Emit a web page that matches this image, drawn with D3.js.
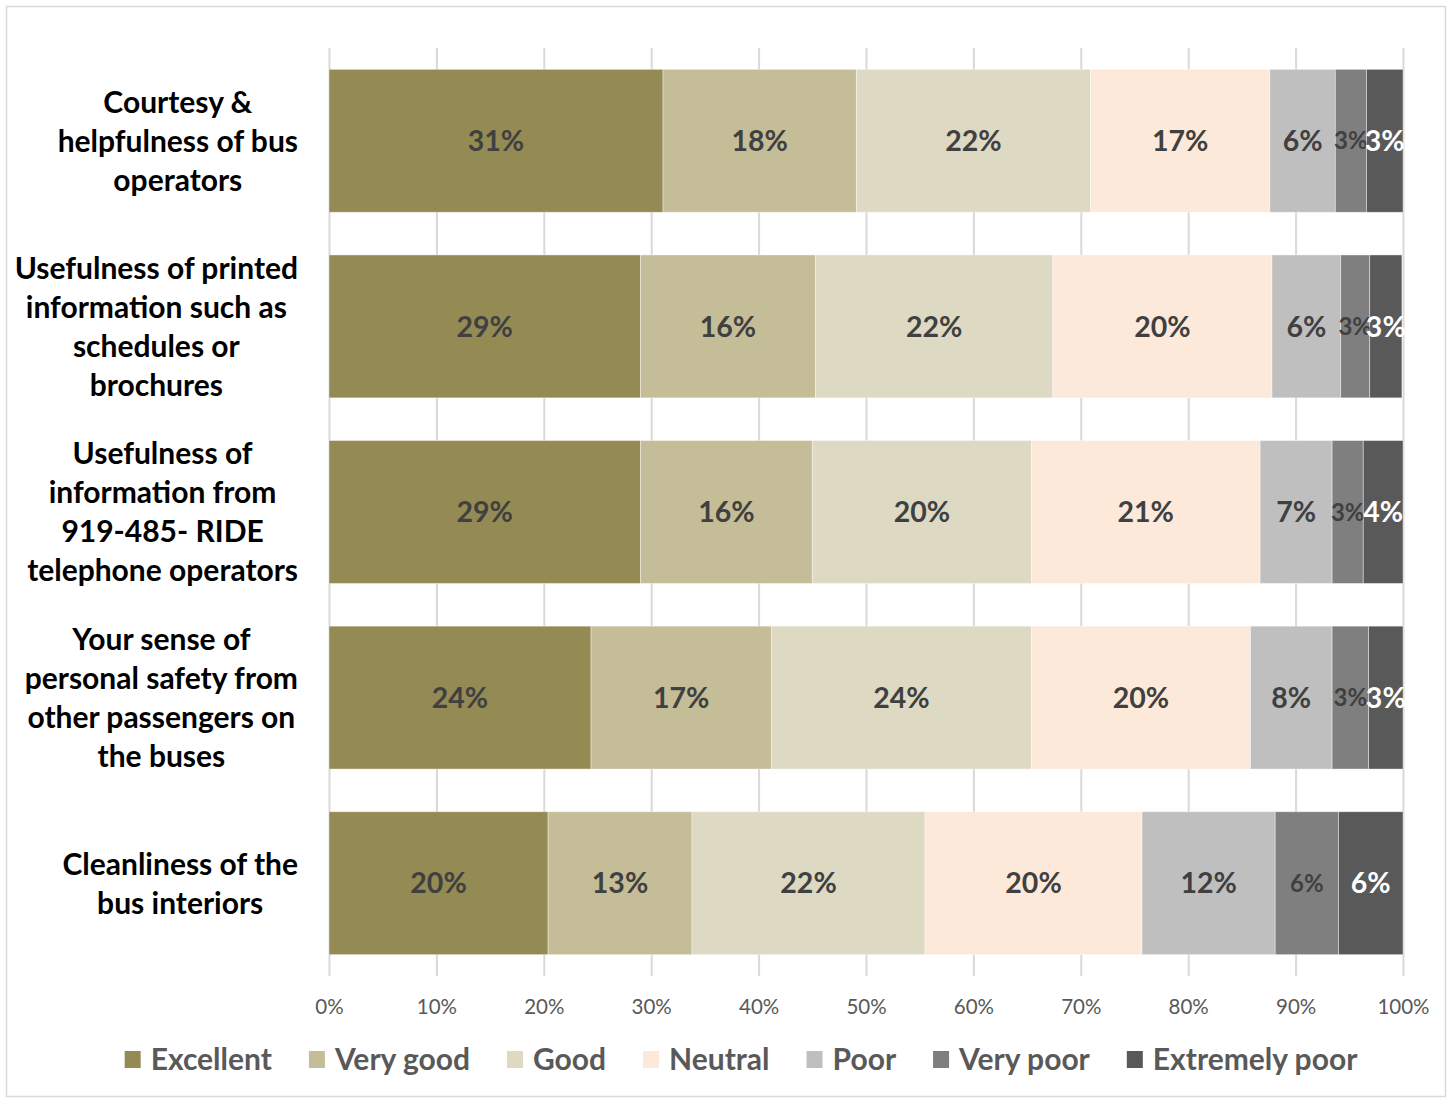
<!DOCTYPE html>
<html>
<head>
<meta charset="utf-8">
<script src="https://cdn.jsdelivr.net/npm/d3@7"></script>
<style>
  body { margin: 0; background: #fff; }
  svg { display: block; }
</style>
</head>
<body>
<svg id="chart" width="1452" height="1098"></svg>
<script>
// chart data
var categories = [
    ["Courtesy &", "helpfulness of bus", "operators"],
    ["Usefulness of printed", "information such as", "schedules or", "brochures"],
    ["Usefulness of", "information from", "919-485- RIDE", "telephone operators"],
    ["Your sense of", "personal safety from", "other passengers on", "the buses"],
    ["Cleanliness of the", "bus interiors"]
];
var seriesNames = ["Excellent", "Very good", "Good", "Neutral", "Poor", "Very poor", "Extremely poor"];
var excellent = [31.1, 29.0, 29.0, 24.4, 20.4];
var veryGood = [18.0, 16.3, 16.0, 16.8, 13.4];
var good = [21.8, 22.1, 20.4, 24.2, 21.7];
var neutral = [16.7, 20.4, 21.3, 20.4, 20.2];
var poor = [6.1, 6.4, 6.7, 7.6, 12.4];
var veryPoor = [2.9, 2.7, 2.9, 3.4, 5.9];
var extremelyPoor = [3.4, 3.0, 3.7, 3.2, 6.0];
var xTicks = [0, 10, 20, 30, 40, 50, 60, 70, 80, 90, 100];

var colors = ["#948A54", "#C4BD97", "#DDD9C3", "#FDE9D9", "#BFBFBF", "#7F7F7F", "#595959"];
var labelColors = ["#404040", "#404040", "#404040", "#404040", "#404040", "#404040", "#ffffff"];
var font = "Lato, 'Open Sans', sans-serif";

var svg = d3.select("#chart");

// outer chart border
svg.append("rect")
    .attr("x", 6.5).attr("y", 6.5)
    .attr("width", 1439).attr("height", 1090)
    .attr("fill", "#fff")
    .attr("stroke", "#D9D9D9")
    .attr("stroke-width", 1.5);

var plotLeft = 329, plotRight = 1403, plotTop = 48, plotBottom = 976;

var x = d3.scaleLinear().domain([0, 100]).range([plotLeft, plotRight]);
var y = d3.scaleBand().domain(d3.range(categories.length)).range([plotTop, plotBottom]).paddingInner(0.23).paddingOuter(0.115);

var allSeries = [excellent, veryGood, good, neutral, poor, veryPoor, extremelyPoor];
var rows = categories.map(function(c, i) {
    var r = { idx: i };
    seriesNames.forEach(function(s, j) { r[s] = allSeries[j][i]; });
    return r;
});
var stacked = d3.stack().keys(seriesNames)(rows);

// gridlines
svg.append("g")
    .selectAll("line")
    .data(xTicks)
    .enter()
    .append("line")
    .attr("x1", function(d) { return x(d) + 0.5; })
    .attr("x2", function(d) { return x(d) + 0.5; })
    .attr("y1", plotTop)
    .attr("y2", plotBottom)
    .attr("stroke", "#D9D9D9")
    .attr("stroke-width", 2);

// x axis tick labels
var xAxis = d3.axisBottom(x).tickValues(xTicks).tickSize(0).tickFormat(function(d) { return d + "%"; });
var ax = svg.append("g").attr("transform", "translate(0," + (plotBottom + 20) + ")").call(xAxis);
ax.select(".domain").remove();
ax.selectAll("text")
    .attr("font-family", font)
    .attr("font-size", 20.5)
    .attr("fill", "#595959");

// bars
var layers = svg.append("g").selectAll("g")
    .data(stacked)
    .enter()
    .append("g")
    .attr("fill", function(d, i) { return colors[i]; });

layers.selectAll("rect")
    .data(function(d) { return d; })
    .enter()
    .append("rect")
    .attr("x", function(d) { return x(d[0]); })
    .attr("width", function(d) { return x(d[1]) - x(d[0]); })
    .attr("y", function(d) { return y(d.data.idx); })
    .attr("height", y.bandwidth())
    .attr("stroke", "#ffffff")
    .attr("stroke-opacity", 0.5)
    .attr("stroke-width", 0.8);

// data labels
layers.each(function(layer, si) {
    d3.select(this).selectAll("text")
        .data(layer)
        .enter()
        .append("text")
        .attr("x", function(d) { return (x(d[0]) + x(d[1])) / 2; })
        .attr("y", function(d) { return y(d.data.idx) + y.bandwidth() / 2; })
        .attr("dy", "0.36em")
        .attr("text-anchor", "middle")
        .attr("font-family", font)
        .attr("font-weight", "bold")
        .attr("font-size", function(d) { return si === 5 ? 24 : 28.5; })
        .attr("fill", labelColors[si])
        .text(function(d) { return Math.round(d[1] - d[0]) + "%"; });
});

// category labels: centered lines, block right-aligned to 298
categories.forEach(function(lines, i) {
    var g = svg.append("g");
    var lh = 39;
    var cy = y(i) + y.bandwidth() / 2;
    var texts = g.selectAll("text")
        .data(lines)
        .enter()
        .append("text")
        .attr("x", 0)
        .attr("y", function(d, k) { return cy + (k - (lines.length - 1) / 2) * lh; })
        .attr("dy", "0.36em")
        .attr("text-anchor", "middle")
        .attr("font-family", font)
        .attr("font-weight", "bold")
        .attr("font-size", 30)
        .attr("fill", "#000")
        .text(function(d) { return d; });
    var maxW = 0;
    texts.each(function() { maxW = Math.max(maxW, this.getComputedTextLength()); });
    g.attr("transform", "translate(" + (298 - maxW / 2) + ",0)");
});

// legend
var legend = svg.append("g");
var items = legend.selectAll("g")
    .data(seriesNames)
    .enter()
    .append("g");
items.append("rect")
    .attr("width", 16).attr("height", 17)
    .attr("y", 1051)
    .attr("fill", function(d, i) { return colors[i]; });
items.append("text")
    .attr("x", 26)
    .attr("y", 1059)
    .attr("dy", "0.36em")
    .attr("font-family", font)
    .attr("font-weight", "bold")
    .attr("font-size", 30)
    .attr("fill", "#595959")
    .text(function(d) { return d; });
var pos = 0, gap = 37, offsets = [];
items.each(function() {
    offsets.push(pos);
    pos += 26 + this.querySelector("text").getComputedTextLength() + gap;
});
var total = pos - gap;
var startX = 741 - total / 2;
items.attr("transform", function(d, i) { return "translate(" + (startX + offsets[i]) + ",0)"; });
</script>
</body>
</html>
